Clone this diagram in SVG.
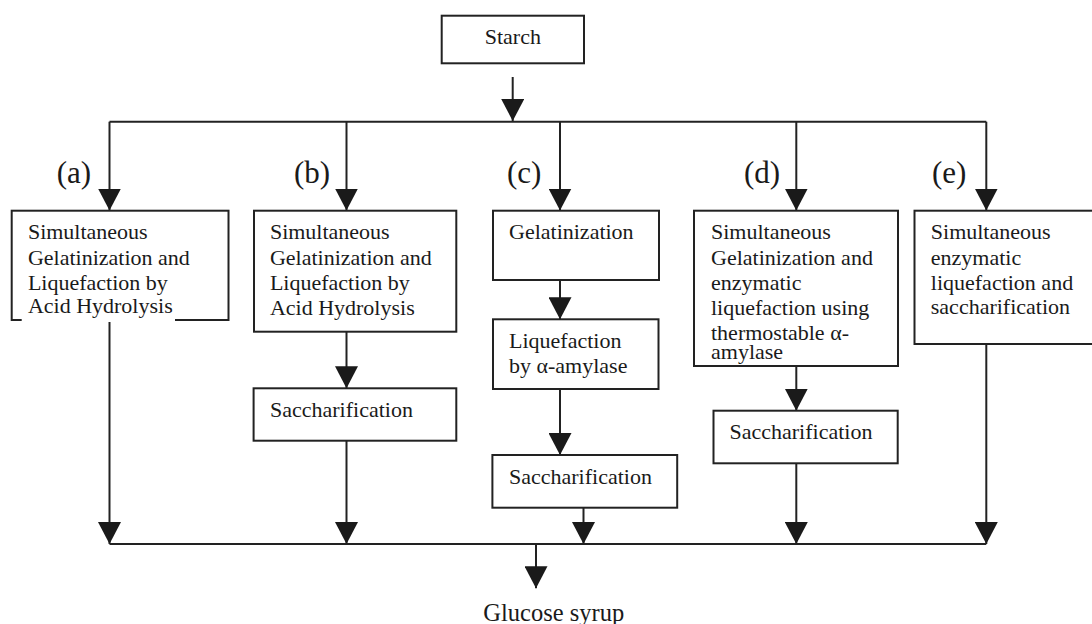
<svg xmlns="http://www.w3.org/2000/svg" width="1092" height="624" viewBox="0 0 1092 624">
<style>
  .box { fill: #fff; stroke: #222; stroke-width: 2; }
  .t { font-family: "Liberation Serif", "Times New Roman", serif; font-size: 22px; fill: #1a1a1a; }
  .lbl { font-family: "Liberation Serif", "Times New Roman", serif; font-size: 31px; fill: #1a1a1a; }
  .ln { fill: none; stroke: #222; stroke-width: 2; }
  .arr { fill: none; stroke: #222; stroke-width: 2; marker-end: url(#ah); }
</style>
<defs>
  <marker id="ah" viewBox="0 0 22 23" refX="22" refY="11.5" markerWidth="22" markerHeight="23" markerUnits="userSpaceOnUse" orient="auto">
    <path d="M0,0 L22,11.5 L0,23 z" fill="#1a1a1a"/>
  </marker>
</defs>
<rect width="1092" height="624" fill="#fff"/>

<g id="connectors">
  <path class="arr" d="M512.7,77 V121"/>
  <path class="ln" d="M109.5,121.7 H986.3"/>
  <path class="arr" d="M109.5,121.7 V210.5"/>
  <path class="arr" d="M346.5,121.7 V210.5"/>
  <path class="arr" d="M560,121.7 V210.5"/>
  <path class="arr" d="M796.3,121.7 V210.5"/>
  <path class="arr" d="M986.3,121.7 V210.5"/>
  <path class="arr" d="M346.5,331.7 V388.3"/>
  <path class="arr" d="M560,280 V319.3"/>
  <path class="arr" d="M560,389 V455"/>
  <path class="arr" d="M796.3,366 V410.7"/>
  <path class="arr" d="M109.5,320 V544"/>
  <path class="arr" d="M346.5,440.7 V544"/>
  <path class="arr" d="M583.5,507.7 V544"/>
  <path class="arr" d="M796.3,463.3 V544"/>
  <path class="arr" d="M986.3,344 V544"/>
  <path class="ln" d="M109.5,544 H986.3"/>
  <path class="arr" d="M536,544 V588.3"/>
</g>

<g id="labels">
  <text class="lbl" x="56.7" y="183">(a)</text>
  <text class="lbl" x="294" y="183">(b)</text>
  <text class="lbl" x="507" y="183">(c)</text>
  <text class="lbl" x="744" y="183">(d)</text>
  <text class="lbl" x="932" y="183">(e)</text>
</g>

<g id="starch">
  <rect class="box" x="441.7" y="15.7" width="142.3" height="47.6"/>
  <text class="t" x="512.8" y="44" text-anchor="middle">Starch</text>
</g>

<g id="a-box">
  <rect class="box" x="11.7" y="210.7" width="216.8" height="109.3"/>
  <rect x="21.7" y="318" width="153.3" height="4" fill="#fff"/>
  <text class="t" x="27.9" y="239.3">Simultaneous</text>
  <text class="t" x="27.9" y="264.5">Gelatinization and</text>
  <text class="t" x="27.9" y="290">Liquefaction by</text>
  <text class="t" x="27.9" y="313">Acid Hydrolysis</text>
</g>

<g id="b-box">
  <rect class="box" x="254" y="210.7" width="202.3" height="121"/>
  <text class="t" x="269.9" y="239.3">Simultaneous</text>
  <text class="t" x="269.9" y="265">Gelatinization and</text>
  <text class="t" x="269.9" y="290">Liquefaction by</text>
  <text class="t" x="269.9" y="315">Acid Hydrolysis</text>
</g>

<g id="b-sacch">
  <rect class="box" x="253.6" y="388.3" width="202.7" height="52.4"/>
  <text class="t" x="270" y="417.3">Saccharification</text>
</g>

<g id="c-gel">
  <rect class="box" x="493" y="210.7" width="166" height="69.3"/>
  <text class="t" x="509" y="239.3">Gelatinization</text>
</g>

<g id="c-liq">
  <rect class="box" x="493" y="319.3" width="165.5" height="69.7"/>
  <text class="t" x="509" y="348.3">Liquefaction</text>
  <text class="t" x="509" y="373.3">by α-amylase</text>
</g>

<g id="c-sacch">
  <rect class="box" x="492.4" y="455" width="184.8" height="52.7"/>
  <text class="t" x="509" y="484">Saccharification</text>
</g>

<g id="d-box">
  <rect class="box" x="694" y="210.7" width="204" height="155.3"/>
  <text class="t" x="711" y="239.3">Simultaneous</text>
  <text class="t" x="711" y="265">Gelatinization and</text>
  <text class="t" x="711" y="290">enzymatic</text>
  <text class="t" x="711" y="315">liquefaction using</text>
  <text class="t" x="711" y="339.5">thermostable α-</text>
  <text class="t" x="711" y="359">amylase</text>
</g>

<g id="d-sacch">
  <rect class="box" x="713.5" y="410.7" width="184.2" height="52.6"/>
  <text class="t" x="729.5" y="439.3">Saccharification</text>
</g>

<g id="e-box">
  <rect class="box" x="914.5" y="210.7" width="185" height="133.3"/>
  <text class="t" x="930.8" y="239.3">Simultaneous</text>
  <text class="t" x="930.8" y="264.5">enzymatic</text>
  <text class="t" x="930.8" y="290">liquefaction and</text>
  <text class="t" x="930.8" y="314">saccharification</text>
</g>

<g id="glucose">
  <text class="t" x="483.3" y="620.5" style="font-size:24.5px">Glucose syrup</text>
</g>
</svg>
